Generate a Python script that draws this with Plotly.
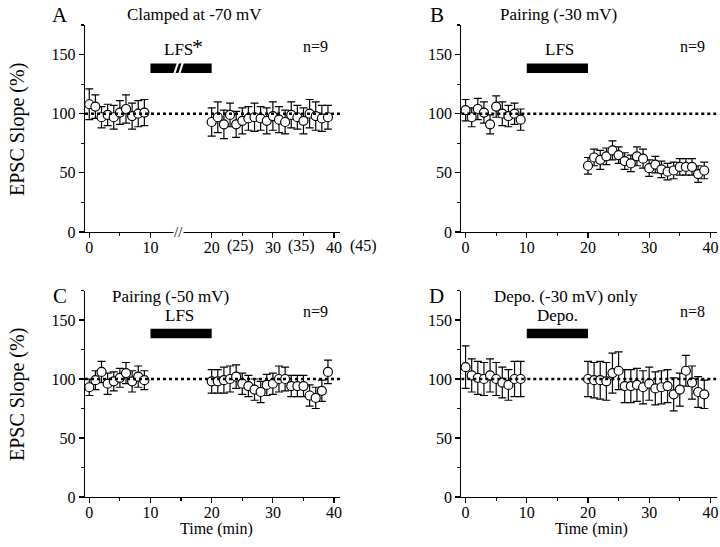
import plotly.graph_objects as go

# ---------------- data ----------------
t_pre = [0, 1, 2, 3, 4, 5, 6, 7, 8, 9]
t_post = list(range(20, 40))

a_pre = [108, 106, 97, 99, 97, 101, 104, 98, 100, 101]
a_pre_err = [13, 10, 9, 9, 10, 10, 12, 11, 11, 11]
a_post = [93, 97, 91, 99, 91, 94, 96, 97, 96, 94, 98, 95, 93, 99, 97, 94, 100, 98, 96, 97]
a_post_err = [12, 13, 12, 10, 11, 11, 10, 12, 10, 11, 12, 11, 10, 11, 10, 11, 12, 12, 11, 10]

b_pre = [103, 97, 104, 101, 91, 106, 100, 98, 100, 95]
b_pre_err = [9, 8, 9, 9, 8, 9, 10, 9, 9, 9]
b_post = [56, 63, 61, 64, 69, 65, 60, 58, 64, 62, 54, 57, 53, 51, 52, 55, 55, 55, 49, 52]
b_post_err = [7, 7, 8, 7, 8, 7, 7, 7, 8, 8, 7, 7, 7, 7, 7, 7, 7, 7, 7, 7]

c_pre = [93, 99, 106, 96, 98, 101, 105, 98, 102, 99]
c_pre_err = [7, 8, 9, 9, 8, 8, 9, 9, 9, 8]
c_post = [98, 98, 99, 100, 102, 96, 94, 91, 89, 95, 96, 100, 100, 94, 94, 94, 86, 84, 90, 106]
c_post_err = [10, 10, 11, 11, 10, 9, 9, 9, 9, 9, 9, 11, 10, 9, 9, 9, 9, 9, 9, 10]

d_pre = [110, 103, 101, 100, 103, 100, 97, 95, 100, 100]
d_pre_err = [18, 14, 14, 14, 14, 14, 13, 13, 15, 15]
d_post = [100, 99, 99, 98, 105, 107, 94, 94, 95, 93, 96, 92, 93, 94, 87, 91, 107, 97, 89, 87]
d_post_err = [15, 15, 16, 16, 17, 16, 14, 14, 14, 14, 14, 14, 14, 14, 14, 14, 13, 14, 13, 12]

stim_start, stim_end = 10, 20
baseline = 100

x_ticks = [0, 10, 20, 30, 40]
a_alt_ticks = [20, 30, 40]
a_alt_labels = ["(25)", "(35)", "(45)"]
y_ticks = [0, 50, 100, 150]

panel_titles = ["Clamped at -70 mV", "Pairing (-30 mV)", "Pairing (-50 mV)", "Depo. (-30 mV) only"]
panel_letters = ["A", "B", "C", "D"]
stim_labels = ["LFS", "LFS", "LFS", "Depo."]
n_labels = ["n=9", "n=9", "n=9", "n=8"]

# ---------------- layout geometry ----------------
W, H = 720, 547
FONT = "Liberation Serif"
XR = [-0.7, 41]
YR = [0, 175]

def px_x(p):
    return p / W

def px_y(p):
    return 1 - p / H

LEFT_X0, LEFT_X1 = 85, 340.2
xdom_left = [px_x(LEFT_X0), px_x(LEFT_X1)]
xdom_right = [px_x(461.3), px_x(716.5)]
ydom_top = [px_y(232), px_y(25)]
ydom_bot = [px_y(497), px_y(290.5)]

def left_panel_px(v):
    return LEFT_X0 + (v - XR[0]) * (LEFT_X1 - LEFT_X0) / (XR[1] - XR[0])

fig = go.Figure()

panels = [
    (a_pre, a_pre_err, a_post, a_post_err, "x", "y"),
    (b_pre, b_pre_err, b_post, b_post_err, "x2", "y2"),
    (c_pre, c_pre_err, c_post, c_post_err, "x3", "y3"),
    (d_pre, d_pre_err, d_post, d_post_err, "x4", "y4"),
]

marker = dict(symbol="circle", size=9, color="white", line=dict(color="black", width=1.2))
for pre, pre_e, post, post_e, xa, ya in panels:
    for xs, ys, es in [(t_pre, pre, pre_e), (t_post, post, post_e)]:
        fig.add_trace(go.Scatter(
            x=xs, y=ys, mode="markers", marker=marker,
            error_y=dict(type="data", array=es, visible=True, color="black", thickness=1.2, width=4),
            xaxis=xa, yaxis=ya, showlegend=False, cliponaxis=False, hoverinfo="skip",
        ))

axis_common = dict(
    range=XR, showline=True, linecolor="black", linewidth=1.2, ticks="outside",
    ticklen=5, tickwidth=1.2, tickcolor="black", showgrid=False, zeroline=False,
    tickfont=dict(family=FONT, size=16, color="black"), ticklabelstandoff=-4,
    minor=dict(dtick=5, ticks="outside", ticklen=3, tickwidth=1.2, tickcolor="black"),
    tickvals=x_ticks,
)
yaxis_common = dict(
    range=YR, showline=True, linecolor="black", linewidth=1.2, ticks="outside",
    ticklen=5, tickwidth=1.2, tickcolor="black", showgrid=False, zeroline=False,
    tickvals=y_ticks, tickfont=dict(family=FONT, size=16, color="black"),
    minor=dict(dtick=25, ticks="outside", ticklen=3, tickwidth=1.2, tickcolor="black"),
)

fig.update_layout(
    width=W, height=H, margin=dict(l=0, r=0, t=0, b=0, autoexpand=False),
    paper_bgcolor="white", plot_bgcolor="white", hovermode=False,
    xaxis=dict(axis_common, domain=xdom_left, anchor="y"),
    yaxis=dict(yaxis_common, domain=ydom_top, anchor="x"),
    xaxis2=dict(axis_common, domain=xdom_right, anchor="y2"),
    yaxis2=dict(yaxis_common, domain=ydom_top, anchor="x2"),
    xaxis3=dict(axis_common, domain=xdom_left, anchor="y3"),
    yaxis3=dict(yaxis_common, domain=ydom_bot, anchor="x3"),
    xaxis4=dict(axis_common, domain=xdom_right, anchor="y4"),
    yaxis4=dict(yaxis_common, domain=ydom_bot, anchor="x4"),
)

def ann(**kw):
    d = dict(showarrow=False, xanchor="center", yanchor="middle")
    d.update(kw)
    return d

refs = [("x", "y"), ("x2", "y2"), ("x3", "y3"), ("x4", "y4")]
shapes = []
annotations = []
letter_pos = [(60, 15), (437, 15), (60, 296), (437, 296)]
title_pos = [(194, 15), (558, 15), (170, 296), (566, 296)]
stim_x = [14.6, 15.3, 14.8, 15.0]
for i, (xr, yr) in enumerate(refs):
    shapes.append(dict(type="line", xref=xr, yref=yr, x0=XR[0], x1=XR[1], y0=baseline, y1=baseline,
                       line=dict(color="black", width=2.5, dash="dot")))
    shapes.append(dict(type="rect", xref=xr, yref=yr, x0=stim_start, x1=stim_end, y0=134.5, y1=142.5,
                       fillcolor="black", line=dict(width=0)))
    annotations.append(ann(xref=xr, yref=yr, x=stim_x[i], y=154, text=stim_labels[i],
                           font=dict(family=FONT, size=17, color="black")))
    annotations.append(ann(xref=xr, yref=yr, x=37.0, y=157, text=n_labels[i],
                           font=dict(family=FONT, size=16, color="black")))
    lx, ly = letter_pos[i]
    annotations.append(ann(xref="paper", yref="paper", x=px_x(lx), y=px_y(ly), text=panel_letters[i],
                           font=dict(family=FONT, size=21, color="black")))
    tx, ty = title_pos[i]
    annotations.append(ann(xref="paper", yref="paper", x=px_x(tx), y=px_y(ty), text=panel_titles[i],
                           font=dict(family=FONT, size=17, color="black")))

# asterisk after LFS in panel A
annotations.append(ann(xref="x", yref="y", x=17.7, y=157, text="*",
                       font=dict(family=FONT, size=22, color="black")))
# break in panel A bar (white slashes)
for bx in [14.2, 15.0]:
    shapes.append(dict(type="line", xref="x", yref="y", x0=bx - 0.35, x1=bx + 0.35, y0=133, y1=144,
                       line=dict(color="white", width=2)))
# break mark on panel A x axis
annotations.append(ann(xref="x", yref="paper", x=14.6, y=px_y(232), text="//",
                       font=dict(family=FONT, size=15, color="black"), bgcolor="white", borderpad=0))
# alternative (real time) tick labels in panel A
for val, lab in zip(a_alt_ticks, a_alt_labels):
    annotations.append(ann(xref="paper", yref="paper", x=px_x(left_panel_px(val + 2.2)), y=px_y(246),
                           text=lab, xanchor="left", font=dict(family=FONT, size=16, color="black")))

# axis titles
for yc in [130, 395]:
    annotations.append(ann(xref="paper", yref="paper", x=px_x(17), y=px_y(yc), text="EPSC Slope (%)",
                           textangle=-90, font=dict(family=FONT, size=20, color="black")))
for xc in [216, 591]:
    annotations.append(ann(xref="paper", yref="paper", x=px_x(xc), y=px_y(529), text="Time (min)",
                           font=dict(family=FONT, size=16, color="black")))

fig.update_layout(shapes=shapes, annotations=annotations)
fig.write_html("out.html", config={"displayModeBar": False, "staticPlot": True},
               post_script="document.body.style.margin='0';document.body.style.overflow='hidden';")
